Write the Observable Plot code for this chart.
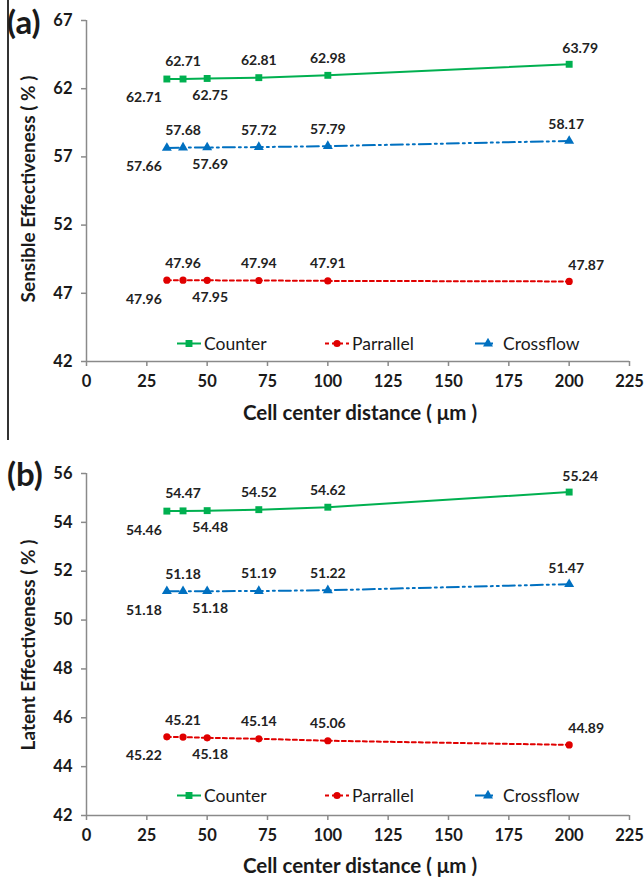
<!DOCTYPE html>
<html>
<head>
<meta charset="utf-8">
<script src="https://cdn.jsdelivr.net/npm/d3@7"></script>
<script src="https://cdn.jsdelivr.net/npm/@observablehq/plot@0.6"></script>
<style>
  body { margin: 0; background: #fff; font-family: Lato, "DejaVu Sans", sans-serif; color: #1a1a1a; }
  #fig { position: relative; width: 644px; height: 879px; overflow: hidden; }
  .panel { position: absolute; left: 0; width: 644px; }
  .panel .chart { position: absolute; left: 0; top: 0; }
  .tag { position: absolute; font-weight: bold; font-size: 33px; line-height: 1.1; }
  .ytitle { position: absolute; font-weight: bold; font-size: 19px; white-space: nowrap;
            transform: translate(-50%, -50%) rotate(-90deg); }
  .xtitle { position: absolute; font-weight: bold; font-size: 20.5px; white-space: nowrap;
            transform: translate(-50%, -50%); }
  .legend-item { position: absolute; display: flex; align-items: center; font-size: 17.5px;
                 white-space: nowrap; transform: translateY(-50%); }
  .legend-item svg { margin-right: 3px; }
  .border { position: absolute; left: 7px; top: 0; width: 1.5px; background: #333; }
</style>
</head>
<body>
<div id="fig"></div>
<script>
// Cell center distance (µm) of the simulated cases
const distance = [33.3, 40, 50, 71.4, 100, 200];
const seriesNames = ["Counter", "Parrallel", "Crossflow"];

// Sensible effectiveness (%)
const sensibleCounter   = [62.71, 62.71, 62.75, 62.81, 62.98, 63.79];
const sensibleParallel  = [47.96, 47.96, 47.95, 47.94, 47.91, 47.87];
const sensibleCrossflow = [57.66, 57.68, 57.69, 57.72, 57.79, 58.17];

// Latent effectiveness (%)
const latentCounter   = [54.46, 54.47, 54.48, 54.52, 54.62, 55.24];
const latentParallel  = [45.22, 45.21, 45.18, 45.14, 45.06, 44.89];
const latentCrossflow = [51.18, 51.18, 51.18, 51.19, 51.22, 51.47];

// Axis ticks
const xTicks = [0, 25, 50, 75, 100, 125, 150, 175, 200, 225];
const sensibleTicks = [42, 47, 52, 57, 62, 67];
const latentTicks = [42, 44, 46, 48, 50, 52, 54, 56];

const axisGray = "#8a8a8a";
const textColor = "#1a1a1a";
const styles = {
  Counter:   { color: "#00b050", dash: null,            symbol: "square",   r: 3.9, lastDx: 11 },
  Parrallel: { color: "#e00000", dash: "4,3",           symbol: "circle",   r: 3.6, lastDx: 17 },
  Crossflow: { color: "#0070c0", dash: "12,4,2,4,2,4",  symbol: "triangle", r: 3.7, lastDx: -3 }
};

function buildChart({ values, ticks, height, marginTop, marginBottom }) {
  const rows = [];
  seriesNames.forEach((s, k) =>
    values[k].forEach((v, i) => rows.push({ series: s, i, x: distance[i], y: v })));
  const last = distance.length - 1;
  const fmt = d => d.y.toFixed(2);
  const labelStyle = { x: "x", y: "y", text: fmt, fontSize: 14, fontWeight: "bold", fill: "#222" };

  const marks = [
    Plot.ruleX([xTicks[0]], { stroke: axisGray, strokeWidth: 1.5 }),
    Plot.ruleY([ticks[0]], { stroke: axisGray, strokeWidth: 1.5 }),
    Plot.axisY({ ticks, tickSize: 5, tickPadding: 9, stroke: axisGray, strokeWidth: 1.5,
                 fill: textColor, fontSize: 16.5, fontWeight: "bold", label: null }),
    Plot.axisX({ ticks: xTicks, tickSize: 5, tickPadding: 9, stroke: axisGray, strokeWidth: 1.5,
                 fill: textColor, fontSize: 16.5, fontWeight: "bold", label: null })
  ];

  for (const s of seriesNames) {
    const st = styles[s];
    const data = rows.filter(d => d.series === s);
    marks.push(Plot.line(data, { x: "x", y: "y", stroke: st.color, strokeWidth: 2,
                                 strokeDasharray: st.dash }));
    marks.push(Plot.dot(data, { x: "x", y: "y", symbol: () => st.symbol, r: st.r,
                                fill: st.color, stroke: "none" }));
    marks.push(Plot.text(data.filter(d => d.i === last), { ...labelStyle, dx: st.lastDx, dy: -16 }));
  }

  // value labels: first point below-left, third point below, the rest above
  marks.push(Plot.text(rows.filter(d => d.i === 0), { ...labelStyle, dx: -23, dy: 19 }));
  marks.push(Plot.text(rows.filter(d => d.i === 2), { ...labelStyle, dx: 3, dy: 17 }));
  marks.push(Plot.text(rows.filter(d => d.i > 0 && d.i !== 2 && d.i !== last), { ...labelStyle, dy: -17 }));

  return Plot.plot({
    width: 644, height, marginTop, marginBottom, marginLeft: 86, marginRight: 15,
    x: { domain: [xTicks[0], xTicks[xTicks.length - 1]] },
    y: { domain: [ticks[0], ticks[ticks.length - 1]] },
    style: { fontFamily: "Lato, sans-serif", background: "transparent", overflow: "visible" },
    marks
  });
}

function legendSwatch(name) {
  const st = styles[name];
  const w = name === "Crossflow" ? 22 : 24;
  const ns = "http://www.w3.org/2000/svg";
  const svg = document.createElementNS(ns, "svg");
  svg.setAttribute("width", w); svg.setAttribute("height", 12);
  const line = document.createElementNS(ns, "line");
  line.setAttribute("x1", 0); line.setAttribute("x2", w);
  line.setAttribute("y1", 6); line.setAttribute("y2", 6);
  line.setAttribute("stroke", st.color); line.setAttribute("stroke-width", 2);
  if (name === "Parrallel") line.setAttribute("stroke-dasharray", "4,3");
  if (name === "Crossflow") line.setAttribute("stroke-dasharray", "12,4,2,4");
  svg.appendChild(line);
  const sym = { square: d3.symbolSquare, circle: d3.symbolCircle, triangle: d3.symbolTriangle }[st.symbol];
  const p = document.createElementNS(ns, "path");
  p.setAttribute("d", d3.symbol(sym, Math.PI * st.r * st.r)());
  p.setAttribute("transform", `translate(${name === "Crossflow" ? 13 : w / 2},6)`);
  p.setAttribute("fill", st.color);
  svg.appendChild(p);
  return svg;
}

function addPanel({ top, height, tag, tagTop, yTitle, yTitleY, xTitleY, legendY, chart, border }) {
  const fig = document.getElementById("fig");
  const div = document.createElement("div");
  div.className = "panel";
  div.style.top = top + "px";
  div.style.height = height + "px";
  fig.appendChild(div);

  const holder = document.createElement("div");
  holder.className = "chart";
  holder.appendChild(chart);
  div.appendChild(holder);

  if (border) {
    const b = document.createElement("div");
    b.className = "border";
    b.style.height = height + "px";
    div.appendChild(b);
  }

  const t = document.createElement("div");
  t.className = "tag"; t.textContent = tag;
  t.style.left = "7px"; t.style.top = tagTop + "px";
  div.appendChild(t);

  const yt = document.createElement("div");
  yt.className = "ytitle"; yt.textContent = yTitle;
  yt.style.left = "27px"; yt.style.top = yTitleY + "px";
  div.appendChild(yt);

  const xt = document.createElement("div");
  xt.className = "xtitle"; xt.textContent = "Cell center distance ( \u03bcm )";
  xt.style.left = "360px"; xt.style.top = xTitleY + "px";
  div.appendChild(xt);

  const legendX = { Counter: 177, Parrallel: 325, Crossflow: 475 };
  for (const s of seriesNames) {
    const item = document.createElement("div");
    item.className = "legend-item";
    item.style.left = legendX[s] + "px";
    item.style.top = legendY + "px";
    item.appendChild(legendSwatch(s));
    const span = document.createElement("span");
    span.textContent = s;
    if (s === "Crossflow") span.style.marginLeft = "3px";
    item.appendChild(span);
    div.appendChild(item);
  }
}

addPanel({
  top: 0, height: 440, tag: "(a)", tagTop: 3, border: true,
  yTitle: "Sensible Effectiveness ( % )", yTitleY: 189, xTitleY: 412, legendY: 343,
  chart: buildChart({ values: [sensibleCounter, sensibleParallel, sensibleCrossflow],
                      ticks: sensibleTicks, height: 440, marginTop: 20, marginBottom: 79 })
});

addPanel({
  top: 440, height: 439, tag: "(b)", tagTop: 15, border: false,
  yTitle: "Latent Effectiveness ( % )", yTitleY: 205, xTitleY: 425, legendY: 355,
  chart: buildChart({ values: [latentCounter, latentParallel, latentCrossflow],
                      ticks: latentTicks, height: 439, marginTop: 33, marginBottom: 64 })
});
</script>
</body>
</html>
